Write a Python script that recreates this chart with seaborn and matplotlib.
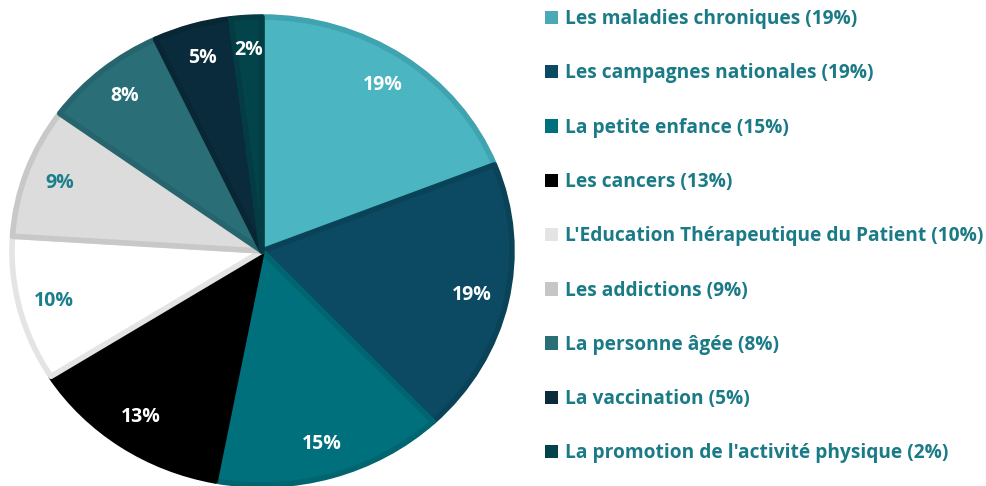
import matplotlib
matplotlib.use("Agg")
import matplotlib.pyplot as plt
import seaborn as sns
from matplotlib.patches import Patch

# Data (clockwise from top)
categories = [
    "Les maladies chroniques",
    "Les campagnes nationales",
    "La petite enfance",
    "Les cancers",
    "L'Education Thérapeutique du Patient",
    "Les addictions",
    "La personne âgée",
    "La vaccination",
    "La promotion de l'activité physique",
]
values = [19, 19, 15, 13, 10, 9, 8, 5, 2]

fill_colors = ["#4BB5C2", "#0B4A62", "#00717C", "#000000", "#FFFFFF",
               "#DCDCDC", "#2A6F78", "#0A2B3B", "#03444B"]
edge_colors = ["#3FA3B0", "#0A4358", "#00656F", "#000000", "#E4E4E4",
               "#C8C8C8", "#26656D", "#092634", "#033D43"]
legend_colors = ["#4BA8B5", "#0B4A62", "#00717C", "#000000", "#E4E4E4",
                 "#C6C6C6", "#2A6F78", "#0A2B3B", "#03444B"]
pct_colors = ["white", "white", "white", "white", "#1A7F8A",
              "#1A7F8A", "white", "white", "white"]
text_teal = "#1A7A86"

sns.set_theme(style="white")
plt.rcParams["font.family"] = ["Open Sans", "DejaVu Sans"]

fig = plt.figure(figsize=(9.87, 4.86), dpi=100)
ax = fig.add_axes([12 / 987, 1 / 486, 500 / 987, 468 / 486])

wedges, texts, autotexts = ax.pie(
    values,
    colors=fill_colors,
    startangle=90,
    counterclock=False,
    autopct=lambda p: f"{p:.0f}%",
    pctdistance=0.86,
    wedgeprops=dict(linewidth=4),
    textprops=dict(fontsize=14, fontweight="bold"),
)
for w, ec in zip(wedges, edge_colors):
    w.set_edgecolor(ec)
    w.set_joinstyle("round")
for t, c in zip(autotexts, pct_colors):
    t.set_color(c)
ax.set_aspect("auto")
ax.set_xlim(-1, 1)
ax.set_ylim(-1, 1)
ax.axis("off")

handles = [Patch(facecolor=fc, edgecolor="none") for fc in legend_colors]
labels = [f"{c} ({v}%)" for c, v in zip(categories, values)]
fig.legend(
    handles, labels,
    loc="upper left",
    bbox_to_anchor=(545 / 987, 1 - 9 / 486),
    frameon=False,
    prop=dict(weight="bold", size=13.8),
    labelcolor=text_teal,
    handlelength=0.7,
    handleheight=0.7,
    handletextpad=0.32,
    labelspacing=1.79,
    borderpad=0,
    borderaxespad=0,
)

fig.savefig("out.png", dpi=100)
